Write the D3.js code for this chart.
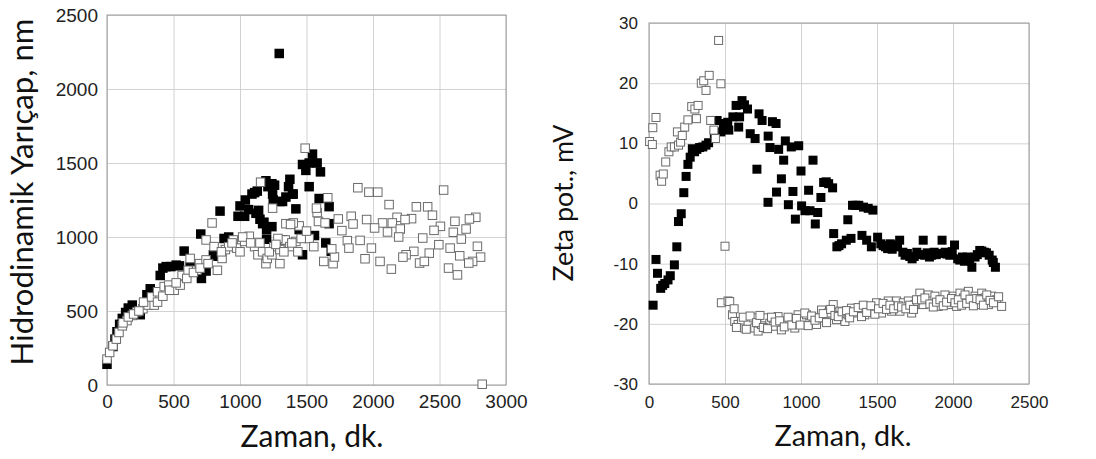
<!DOCTYPE html>
<html><head><meta charset="utf-8">
<script src="https://cdn.jsdelivr.net/npm/d3@7"></script>
<style>body{margin:0;background:#fff;} svg{display:block;}</style>
</head><body>
<svg id="chart" width="1096" height="459"></svg>
<script>
// ---- Left panel: hydrodynamic radius (nm) vs time (min) ----
const radiusFilled = [
[0,140],[45,260],[60,310],[75,360],[95,410],[115,450],[140,490],[160,520],[190,540],[250,475],
[300,610],[325,650],[400,740],[420,790],[445,800],[480,800],[520,810],[545,805],[580,905],[625,800],
[705,1020],[710,720],[745,770],[800,880],[835,870],[850,1175],[880,990],[915,1000],[985,1140],[1000,1210],
[1035,1140],[1040,1250],[1090,1290],[1110,1300],[1130,1310],[1120,1160],[1140,1180],[1170,1090],[1180,1100],[1195,1380],
[1210,1340],[1240,1360],[1260,1350],[1245,1290],[1200,1050],[1240,1070],[1300,1240],[1320,1240],[1345,1270],[1375,1390],
[1365,1340],[1395,1290],[1420,1190],[1320,980],[1445,1050],[1470,880],[1470,1490],[1495,1450],[1520,1500],[1545,1560],
[1580,1500],[1605,1440],[1520,1340],[1595,1260],[1670,1205],[1560,1010],[1645,960],[1670,1090],[1295,2240],[1686,904],
[1400,1290],[1200,985],[1065,1185],[1150,1120],[1250,1250]
];
const radiusOpen = [
[0,175],[20,220],[45,265],[70,310],[90,355],[115,400],[150,435],[190,470],[225,495],[270,515],
[310,540],[355,540],[275,560],[335,595],[380,630],[430,665],[465,675],[505,640],[550,675],[565,740],
[610,775],[625,855],[675,775],[695,820],[745,845],[745,980],[790,1095],[805,935],[830,775],[865,855],
[890,915],[915,935],[950,980],[975,925],[1000,900],[1035,970],[1070,1005],[1110,935],[1135,880],[1170,900],
[1195,820],[1205,855],[1240,880],[1255,935],[1300,820],[1300,915],[1340,980],[1375,935],[1420,970],[1435,900],
[1445,1075],[1400,1095],[1520,990],[1555,935],[1580,1165],[1590,1105],[1630,835],[1640,1095],[1155,1370],[1490,1600],
[1245,1195],[1660,1265],[1575,1195],[1345,1090],[1380,1085],[1285,990],[1700,820],[1710,865],[1690,920],
[120,420],[160,460],[200,480],[240,500],[380,560],[420,600],[470,640],[520,690],[600,720],[650,760],
[700,790],[760,820],[860,900],[940,960],[1020,1000],[1080,960],[1150,960],[1220,900],[1270,950],[1330,900],
[1390,960],[1460,990],[1500,1040],
[1886,1333],[1969,1303],[2036,1303],[2531,1317],[2121,1219],[2326,1204],[2411,1204],[2447,1147],[1836,1140],[1952,1118],
[2181,1133],[2290,1124],[2241,1118],[2616,1106],[2773,1133],[2725,1122],[1739,1122],[1850,1088],[2072,1095],[2145,1095],
[2012,1061],[2109,1034],[2205,1054],[2507,1072],[2459,1045],[2604,1032],[2700,1054],[1766,1043],[2193,1000],[2664,986],
[1903,977],[1807,975],[1819,925],[1988,925],[2374,993],[2495,948],[2580,925],[2785,937],[2809,864],[2749,835],
[2652,873],[2423,891],[2307,903],[2249,880],[2225,864],[2350,824],[2386,835],[1940,853],[2053,835],[2138,783],
[2568,790],[2635,744],[2720,824],[2821,5]
];
const leftXTicks = [0,500,1000,1500,2000,2500,3000];
const leftYTicks = [0,500,1000,1500,2000,2500];

// ---- Right panel: zeta potential (mV) vs time (min) ----
const zetaFilled = [
[27,-16.9],[46,-9.3],[56,-11.6],[77,-14.1],[90,-13.6],[104,-13.3],[125,-12.7],[140,-12.0],[167,-10.2],[183,-7.2],
[194,-3.0],[212,-1.7],[229,1.8],[244,4.5],[256,6.5],[271,7.7],[285,9.1],[300,8.6],[315,9.0],[333,9.3],
[354,9.4],[375,9.7],[392,10.1],[430,11.6],[448,13.8],[473,11.9],[490,12.7],[503,13.3],[518,13.5],[525,12.2],
[552,14.4],[573,16.3],[590,12.7],[596,14.4],[612,17.1],[628,16.4],[648,15.7],[666,11.6],[698,10.8],[710,5.7],
[724,14.9],[744,13.8],[784,11.2],[796,9.3],[812,13.6],[836,13.3],[783,0.2],[839,1.9],[871,4.1],[886,7.2],
[897,10.4],[853,9.0],[917,-0.2],[936,9.4],[947,2.0],[963,-2.6],[985,9.6],[1000,5.4],[1004,-0.4],[1026,-1.2],
[1050,2.2],[1059,-1.2],[1079,7.2],[1094,-3.4],[1110,-1.5],[1131,1.0],[1149,3.5],[1166,3.6],[1182,3.3],[1208,2.6],
[1215,-5.0],[1236,-7.2],[1250,-7.0],[1267,-6.7],[1298,-6.1],[1308,-2.7],[1329,-5.8],[1339,-0.3],[1360,-0.3],[1380,-0.3],
[1401,-5.3],[1411,-0.6],[1432,-6.1],[1442,-0.8],[1463,-7.2],[1473,-1.1],[1504,-5.6],[1525,-6.7],[1540,-7.0],[1556,-7.2],
[1570,-7.5],[1587,-6.7],[1600,-7.6],[1618,-6.9],[1635,-7.2],[1649,-6.1],[1670,-8.1],[1685,-8.6],[1700,-8.3],[1715,-8.8],
[1731,-9.2],[1745,-8.8],[1762,-8.1],[1780,-8.5],[1804,-6.1],[1814,-8.6],[1830,-8.2],[1845,-8.9],[1860,-8.6],[1876,-8.1],
[1890,-8.5],[1907,-8.3],[1928,-6.1],[1948,-8.1],[1960,-8.4],[1979,-8.6],[1995,-8.0],[2010,-6.9],[2031,-9.2],[2045,-9.4],
[2062,-8.9],[2075,-9.6],[2093,-8.9],[2110,-9.3],[2124,-10.6],[2145,-8.9],[2160,-8.5],[2176,-7.8],[2190,-7.9],[2207,-8.1],
[2220,-8.2],[2238,-8.6],[2258,-9.4],[2265,-9.8],[2279,-10.6]
];
const zetaOpen = [
[4,10.3],[22,9.8],[25,12.6],[46,14.3],[73,4.7],[83,3.7],[94,4.9],[110,6.9],[131,8.6],[146,9.4],
[167,9.4],[194,9.7],[208,10.2],[187,11.9],[219,11.3],[235,12.7],[256,13.9],[281,16.1],[302,15.7],[323,16.3],
[312,14.1],[344,20.0],[360,20.4],[375,18.8],[396,21.3],[406,13.8],[427,12.2],[437,10.8],[473,19.9],[458,27.1],
[500,-7.1],[476,-16.5],[520,-16.2],[531,-16.3],
[549,-18.5],[564,-19.6],[586,-20.1],[608,-19.6],[630,-20.7],[652,-19.6],[685,-19.0],[696,-20.7],[718,-21.2],[740,-20.1],
[762,-19.0],[795,-19.9],[817,-20.4],[849,-18.8],[871,-21.0],[904,-20.1],[926,-19.3],[959,-20.7],[981,-18.5],[1014,-19.3],
[1036,-18.5],[1058,-19.9],[1080,-19.0],[1102,-20.1],[1135,-17.7],[1157,-19.0],[1179,-18.2],[1212,-16.8],[1234,-19.3],[1256,-17.9],
[1289,-19.6],[1310,-18.5],[1332,-17.4],[1365,-18.2],[1387,-17.7],[1420,-18.5],[1442,-17.4],[1475,-17.9],[1497,-16.5],[1530,-18.2],
[1552,-16.8],[1574,-16.2],[1596,-17.9],[1629,-16.2],[1651,-17.9],[1673,-16.5],[1706,-16.2],[1728,-18.2],[1749,-16.8],[1782,-14.9],
[1804,-16.8],[1837,-15.2],[1859,-16.2],[1881,-15.4],[1903,-17.1],[1925,-16.0],[1947,-15.2],[1980,-16.8],[2002,-15.4],[2024,-17.1],
[2046,-14.9],[2068,-15.7],[2101,-14.6],[2123,-16.2],[2145,-15.4],[2167,-16.8],[2189,-14.9],[2211,-15.7],[2233,-16.8],[2255,-15.4],
[2287,-16.0],[2320,-17.1],
[560,-17.5],[575,-20.6],[620,-18.9],[640,-20.9],[665,-18.7],[708,-19.8],[730,-18.6],[752,-20.6],[780,-20.8],[806,-18.9],
[830,-19.7],[860,-19.5],[890,-20.5],[915,-18.9],[940,-20.2],[970,-19.1],[995,-20.2],[1025,-18.2],[1047,-20.3],[1070,-18.7],
[1092,-19.4],[1120,-19.0],[1146,-18.3],[1168,-19.8],[1195,-17.6],[1223,-18.6],[1245,-18.8],[1270,-18.0],[1300,-17.8],[1320,-19.0],
[1345,-18.0],[1376,-17.3],[1398,-18.8],[1410,-16.9],[1432,-18.1],[1460,-17.0],[1486,-18.4],[1510,-17.5],[1540,-16.6],[1563,-17.6],
[1585,-16.9],[1610,-17.5],[1640,-17.0],[1662,-17.2],[1690,-17.5],[1716,-16.9],[1740,-17.6],[1760,-16.0],[1793,-16.0],[1815,-15.7],
[1848,-16.7],[1870,-17.2],[1892,-16.4],[1914,-16.0],[1936,-17.0],[1958,-16.4],[1990,-15.8],[2013,-16.5],[2035,-16.0],[2057,-16.9],
[2079,-15.2],[2090,-16.6],[2112,-15.9],[2134,-17.0],[2156,-15.8],[2178,-16.0],[2200,-16.9],[2222,-15.2],[2244,-16.1],[2266,-16.5],
[2300,-15.5]
];
const rightXTicks = [0,500,1000,1500,2000,2500];
const rightYTicks = [-30,-20,-10,0,10,20,30];

const xTitle = "Zaman, dk.";
const leftYTitle = "Hidrodinamik Yarıçap, nm";
const rightYTitle = "Zeta pot., mV";

const svg = d3.select("#chart");
const plainFormat = d => String(d);

function fitText(sel, width) {
  sel.style("font-size", "30px");
  const w = sel.node().getComputedTextLength();
  sel.style("font-size", (30 * width / w) + "px");
}

function panel(cfg) {
  const x = d3.scaleLinear().domain(cfg.xDomain).range(cfg.xRange);
  const y = d3.scaleLinear().domain(cfg.yDomain).range(cfg.yRange);
  const g = svg.append("g");
  const w = cfg.xRange[1] - cfg.xRange[0];
  const h = cfg.yRange[0] - cfg.yRange[1];

  g.append("g").attr("transform", `translate(0,${cfg.yRange[0]})`)
    .call(d3.axisBottom(x).tickValues(cfg.xTicks).tickSize(-h).tickFormat(""))
    .call(s => s.select(".domain").remove())
    .call(s => s.selectAll("line").attr("stroke", "#d2d2d2").attr("stroke-width", 1));
  g.append("g").attr("transform", `translate(${cfg.xRange[0]},0)`)
    .call(d3.axisLeft(y).tickValues(cfg.yTicks).tickSize(-w).tickFormat(""))
    .call(s => s.select(".domain").remove())
    .call(s => s.selectAll("line").attr("stroke", "#d2d2d2").attr("stroke-width", 1));

  g.append("rect").attr("x", cfg.xRange[0]).attr("y", cfg.yRange[1])
    .attr("width", w).attr("height", h)
    .attr("fill", "none").attr("stroke", "#9a9a9a").attr("stroke-width", 1);

  g.append("g").attr("transform", `translate(0,${cfg.yRange[0]})`)
    .call(d3.axisBottom(x).tickValues(cfg.xTicks).tickSize(0).tickPadding(cfg.xPad).tickFormat(plainFormat))
    .call(s => s.select(".domain").remove())
    .call(s => s.selectAll("text").attr("font-family", "'Liberation Sans', Arial, sans-serif")
      .attr("font-size", cfg.tickFont).attr("fill", "#222"));
  g.append("g").attr("transform", `translate(${cfg.xRange[0]},0)`)
    .call(d3.axisLeft(y).tickValues(cfg.yTicks).tickSize(0).tickPadding(cfg.yPad).tickFormat(plainFormat))
    .call(s => s.select(".domain").remove())
    .call(s => s.selectAll("text").attr("font-family", "'Liberation Sans', Arial, sans-serif")
      .attr("font-size", cfg.tickFont).attr("fill", "#222"));

  const s = cfg.size;
  g.append("g").selectAll("rect").data(cfg.filled).join("rect")
    .attr("x", d => x(d[0]) - s / 2).attr("y", d => y(d[1]) - s / 2)
    .attr("width", s).attr("height", s).attr("fill", "#000");
  g.append("g").selectAll("rect").data(cfg.open).join("rect")
    .attr("x", d => x(d[0]) - s / 2 + 0.5).attr("y", d => y(d[1]) - s / 2 + 0.5)
    .attr("width", s - 1).attr("height", s - 1).attr("fill", "#fff")
    .attr("stroke", "#6a6a6a").attr("stroke-width", 1);

  const xt = svg.append("text").text(xTitle)
    .attr("x", cfg.xTitlePos[0]).attr("y", cfg.xTitlePos[1])
    .attr("text-anchor", "middle").attr("font-family", "Lato, 'Open Sans', sans-serif").attr("fill", "#111");
  fitText(xt, cfg.xTitleW);
  const yt = svg.append("text").text(cfg.yTitle)
    .attr("transform", `translate(${cfg.yTitlePos[0]},${cfg.yTitlePos[1]}) rotate(-90)`)
    .attr("text-anchor", "middle").attr("font-family", "Lato, 'Open Sans', sans-serif").attr("fill", "#111");
  fitText(yt, cfg.yTitleW);
}

panel({
  xDomain: [0, 3000], xRange: [107, 506], yDomain: [0, 2500], yRange: [385, 15],
  xTicks: leftXTicks, yTicks: leftYTicks, filled: radiusFilled, open: radiusOpen,
  size: 9.5, tickFont: 19, xPad: 10, yPad: 9,
  xTitlePos: [312, 447], xTitleW: 143, yTitle: leftYTitle, yTitlePos: [33, 192], yTitleW: 347
});
panel({
  xDomain: [0, 2500], xRange: [649, 1029], yDomain: [-30, 30], yRange: [384, 23],
  xTicks: rightXTicks, yTicks: rightYTicks, filled: zetaFilled, open: zetaOpen,
  size: 9, tickFont: 17, xPad: 12, yPad: 11,
  xTitlePos: [843, 446], xTitleW: 137, yTitle: rightYTitle, yTitlePos: [573, 203], yTitleW: 157
});
</script>
</body></html>
